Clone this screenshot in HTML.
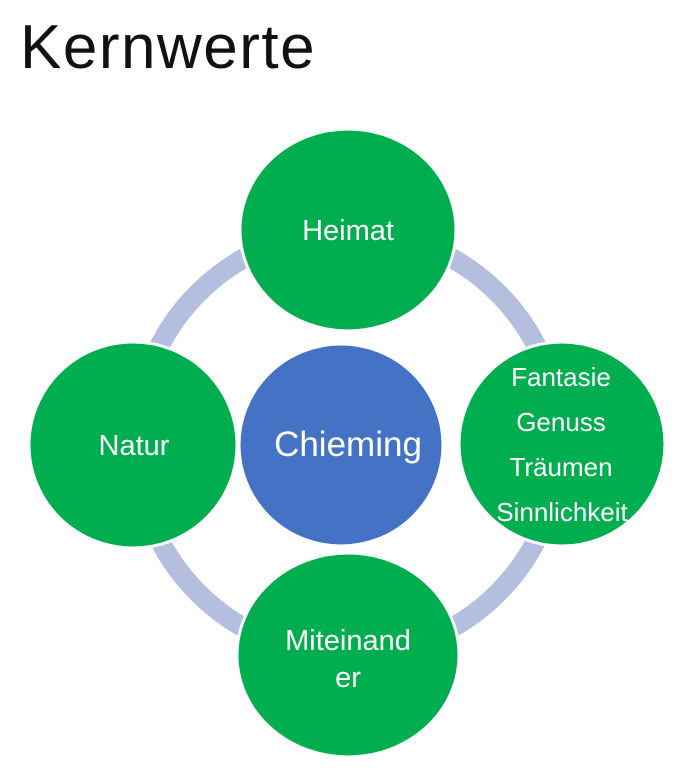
<html><body style="margin:0;width:693px;height:774px;background:#fff;overflow:hidden;position:relative;font-family:'Liberation Sans',sans-serif">
<div style="position:absolute;left:20px;top:12px;font-size:62px;color:#111;font-weight:300;letter-spacing:1.5px">Kernwerte</div>
<svg width="693" height="774" style="position:absolute;left:0;top:0">
<circle cx="348" cy="443" r="212" fill="none" stroke="#b4bfe0" stroke-width="20"/>
<g stroke="#fff" stroke-width="3" fill="#00ad4f">
<ellipse cx="348" cy="230" rx="108" ry="101"/>
<ellipse cx="133" cy="445" rx="104" ry="103"/>
<ellipse cx="562" cy="444" rx="103" ry="102"/>
<ellipse cx="348" cy="655" rx="111" ry="102"/>
<ellipse cx="341" cy="445" rx="102" ry="101" fill="#4472c4"/>
</g>
<g fill="#fff" font-family="Liberation Sans, sans-serif" text-anchor="middle" font-size="29">
<text x="348" y="240">Heimat</text>
<text x="134" y="455">Natur</text>
<text x="348" y="456" font-size="35">Chieming</text>
<text x="561" y="386" font-size="26">Fantasie</text>
<text x="561" y="431" font-size="26">Genuss</text>
<text x="561" y="476" font-size="26">Träumen</text>
<text x="562" y="521" font-size="26">Sinnlichkeit</text>
<text x="348" y="650">Miteinand</text>
<text x="348" y="687">er</text>
</g>
</svg>
</body></html>
